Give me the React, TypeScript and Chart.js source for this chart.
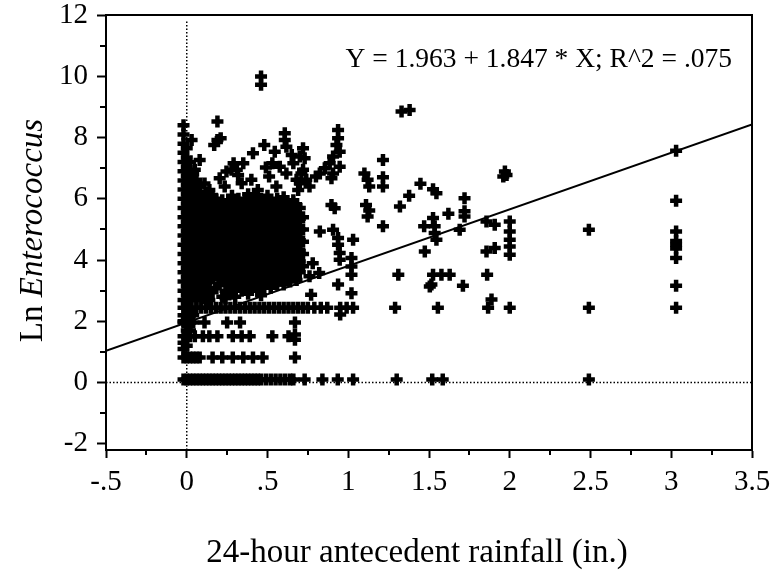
import React, { useEffect, useRef } from 'react';
import { Chart, registerables } from 'chart.js';

Chart.register(...registerables);

const SERIF = '"Liberation Serif", "Times New Roman", Times, serif';

// ---- axes ----
const xTickValues = [-0.5, 0, 0.5, 1, 1.5, 2, 2.5, 3, 3.5];
const xTickLabels = ['-.5', '0', '.5', '1', '1.5', '2', '2.5', '3', '3.5'];
const xMinorTickValues = [-0.25, 0.25, 0.75, 1.25, 1.75, 2.25, 2.75, 3.25];
const yTickValues = [-2, 0, 2, 4, 6, 8, 10, 12];
const yTickLabels = ['-2', '0', '2', '4', '6', '8', '10', '12'];
const yMinorTickValues = [-1, 1, 3, 5, 7, 9, 11];

const xAxisTitle = '24-hour antecedent rainfall (in.)';
const yAxisTitlePlain = 'Ln ';
const yAxisTitleItalic = 'Enterococcus';

// ---- regression ----
const fitIntercept = 1.963;
const fitSlope = 1.847;
const fitRainfall = [-0.5, 3.5];
const equationText = 'Y = 1.963 + 1.847 * X; R^2 = .075';

// ---- reference lines ----
const zeroRainfallLine = [-2.2, 11.8];
const zeroLnLine = [-0.5, 3.5];

// ---- data: horizontal bands (samples at common reported concentrations) ----
const bandLevels = [0.1, 0.82, 1.51, 1.96, 2.44];
const bandRainfall = [
  [-0.02, 0, 0.02, 0.04, 0.06, 0.08, 0.1, 0.12, 0.14, 0.16, 0.18, 0.2, 0.22, 0.24, 0.26, 0.28, 0.3, 0.32, 0.34, 0.36, 0.38, 0.4, 0.42, 0.44, 0.46, 0.49, 0.52, 0.55, 0.58, 0.61, 0.64, 0.66, 0.73, 0.84, 0.935, 1.03, 1.3, 1.52, 1.585, 2.49],
  [-0.02, 0, 0.02, 0.04, 0.06, 0.08, 0.16, 0.22, 0.285, 0.35, 0.41, 0.47, 0.67],
  [-0.02, 0, 0.02, 0.05, 0.1, 0.14, 0.19, 0.285, 0.34, 0.39, 0.53, 0.63],
  [-0.02, 0, 0.02, 0.04, 0.11, 0.25, 0.33, 0.67],
  [-0.02, 0, 0.03, 0.06, 0.09, 0.12, 0.15, 0.18, 0.21, 0.24, 0.27, 0.3, 0.33, 0.36, 0.39, 0.42, 0.45, 0.48, 0.51, 0.54, 0.57, 0.6, 0.63, 0.66, 0.69, 0.72, 0.75, 0.79, 0.83, 0.87, 0.95, 0.99, 1.03, 1.29, 1.555, 1.866, 2.0, 2.49, 3.03],
];

// ---- data: dense cluster of low-rainfall samples, by rainfall column ----
const clusterRainfall = [-0.02, 0, 0.02, 0.04, 0.06, 0.08, 0.1, 0.12, 0.14, 0.16, 0.18, 0.2, 0.22, 0.24, 0.26, 0.28, 0.3, 0.32, 0.34, 0.36, 0.38, 0.4, 0.42, 0.44, 0.46, 0.48, 0.5, 0.52, 0.54, 0.56, 0.58, 0.6, 0.62, 0.64, 0.66, 0.68, 0.7, 0.72];
const clusterLnEntero = [
  [1.1, 1.3, 2.0, 2.2, 2.7, 3.0, 3.3, 3.6, 3.9, 4.2, 4.5, 4.8, 5.1, 5.4, 5.7, 6.0, 6.3, 6.6, 6.9, 7.2, 7.5, 7.8, 8.1, 8.4],
  [1.2, 1.7, 2.1, 2.6, 2.85, 3.15, 3.45, 3.75, 4.05, 4.35, 4.65, 4.95, 5.25, 5.55, 5.85, 6.15, 6.45, 6.75, 7.05, 7.35, 7.65],
  [1.7, 2.2, 2.7, 3.0, 3.3, 3.6, 3.9, 4.2, 4.5, 4.8, 5.1, 5.4, 5.7, 6.0, 6.3, 6.6, 6.9, 7.2],
  [2.2, 2.9, 3.2, 3.5, 3.8, 4.1, 4.4, 4.7, 5.0, 5.3, 5.6, 5.9, 6.2, 6.5, 6.8],
  [2.7, 3.05, 3.35, 3.65, 3.95, 4.25, 4.55, 4.85, 5.15, 5.45, 5.75, 6.05, 6.35, 6.62],
  [2.9, 3.2, 3.5, 3.8, 4.1, 4.4, 4.7, 5.0, 5.3, 5.6, 5.9, 6.2, 6.4],
  [2.75, 3.1, 3.4, 3.7, 4.0, 4.3, 4.6, 4.9, 5.2, 5.5, 5.8, 6.1],
  [2.9, 3.25, 3.55, 3.85, 4.15, 4.45, 4.75, 5.05, 5.35, 5.65, 5.95],
  [2.7, 3.0, 3.3, 3.6, 3.9, 4.2, 4.5, 4.8, 5.1, 5.4, 5.7],
  [2.95, 3.4, 3.7, 4.0, 4.3, 4.6, 4.9, 5.2, 5.5, 5.8],
  [3.1, 3.5, 3.85, 4.15, 4.45, 4.75, 5.05, 5.35, 5.65, 6.0],
  [3.2, 3.55, 3.9, 4.25, 4.55, 4.85, 5.15, 5.45, 5.75],
  [2.8, 3.3, 3.65, 4.0, 4.35, 4.7, 5.0, 5.3, 5.6, 5.95],
  [2.75, 3.0, 3.45, 3.8, 4.1, 4.45, 4.8, 5.1, 5.4, 5.75],
  [3.2, 3.6, 3.9, 4.25, 4.6, 4.9, 5.25, 5.55, 5.9],
  [2.9, 3.35, 3.7, 4.05, 4.4, 4.75, 5.05, 5.4, 5.7, 6.1],
  [2.8, 3.1, 3.5, 3.85, 4.2, 4.5, 4.85, 5.2, 5.5, 5.85],
  [3.25, 3.6, 3.95, 4.3, 4.65, 5.0, 5.35, 5.65, 6.0],
  [3.0, 3.4, 3.75, 4.1, 4.45, 4.8, 5.1, 5.45, 5.8],
  [3.2, 3.55, 3.9, 4.25, 4.6, 4.95, 5.3, 5.6, 5.95],
  [2.9, 3.35, 3.7, 4.05, 4.4, 4.75, 5.05, 5.4, 5.75, 6.15],
  [3.1, 3.5, 3.85, 4.2, 4.55, 4.9, 5.2, 5.55, 5.9],
  [3.25, 3.6, 3.95, 4.3, 4.65, 5.0, 5.35, 5.7, 6.05],
  [3.0, 3.4, 3.75, 4.1, 4.45, 4.8, 5.15, 5.5, 5.85],
  [2.85, 3.2, 3.55, 3.9, 4.25, 4.6, 4.95, 5.3, 5.65, 6.0],
  [3.1, 3.45, 3.8, 4.15, 4.5, 4.85, 5.2, 5.55, 5.9],
  [3.3, 3.65, 4.0, 4.35, 4.7, 5.05, 5.4, 5.75, 6.1],
  [3.1, 3.5, 3.85, 4.2, 4.55, 4.9, 5.25, 5.6, 5.95],
  [3.3, 3.7, 4.05, 4.4, 4.75, 5.1, 5.45, 5.8],
  [3.2, 3.55, 3.9, 4.25, 4.6, 4.95, 5.3, 5.65, 6.0],
  [3.4, 3.75, 4.1, 4.45, 4.8, 5.15, 5.5, 5.85],
  [3.2, 3.6, 3.95, 4.3, 4.65, 5.0, 5.35, 5.7, 6.05],
  [3.45, 3.8, 4.15, 4.5, 4.85, 5.2, 5.55, 5.9],
  [3.3, 3.65, 4.0, 4.35, 4.7, 5.05, 5.4, 5.75],
  [3.5, 3.85, 4.2, 4.55, 4.9, 5.25, 5.6, 5.95],
  [3.35, 3.7, 4.05, 4.4, 4.75, 5.1, 5.45, 5.8],
  [3.6, 3.95, 4.3, 4.65, 5.0, 5.35, 5.7],
  [3.8, 4.2, 4.6, 5.0, 5.4],
];

// ---- data: individual samples outside the dense cluster ----
const outlierRainfall = [
  0.03, 0.05, 0.08, 0.14, 0.19, 0.19, 0.21, 0.17, 0.204, 0.235, 0.246, 0.277, 0.29, 0.31, 0.318, 0.34, 0.35, 0.4, 0.41, 0.44,
  0.46, 0.46, 0.48, 0.49, 0.51, 0.53, 0.545, 0.555, 0.576, 0.607, 0.607, 0.617, 0.617, 0.65, 0.66, 0.68, 0.7, 0.7, 0.69, 0.71,
  0.72, 0.72, 0.73, 0.74, 0.76, 0.8, 0.824, 0.855, 0.885, 0.906, 0.947, 0.927, 0.937, 0.937, 0.947, 0.906, 0.896, 0.896, 0.916, 0.824,
  0.906, 0.937, 1.03, 0.937, 0.947, 0.947, 1.02, 1.02, 1.02, 0.82, 0.76, 0.78, 0.937, 1.02, 0.77, 0.95, 0.67, 0.67, 1.1, 1.12,
  1.13, 1.11, 1.13, 1.12, 1.215, 1.215, 1.215, 1.215, 1.33, 1.38, 1.447, 1.377, 1.32, 1.525, 1.546, 1.72, 1.72, 1.72, 1.62, 1.525,
  1.535, 1.47, 1.546, 1.535, 1.69, 1.856, 1.907, 2.0, 2.0, 2.0, 2.0, 2.0, 1.856, 1.907, 1.97, 1.98, 1.96, 1.474, 1.31, 1.525,
  1.577, 1.628, 1.515, 1.505, 1.71, 1.86, 1.887, 2.49, 3.03, 3.03, 3.03, 3.03, 3.03, 3.03, 3.03, 3.03,
  0.11, 0.13, 0.16,
];
const outlierLnEntero = [
  7.92, 6.95, 7.27, 6.29, 8.52, 7.92, 7.98, 7.76, 6.67, 6.4, 6.89, 6.95, 7.16, 6.95, 6.78, 6.51, 7.16, 6.62, 7.49, 6.29,
  9.99, 9.72, 7.76, 7.02, 6.73, 7.16, 7.54, 6.4, 7.05, 8.14, 7.92, 7.7, 6.83, 7.43, 7.16, 6.62, 7.38, 6.51, 6.29, 6.83,
  7.65, 6.95, 7.32, 6.62, 6.4, 6.73, 6.83, 7.0, 7.16, 7.38, 7.54, 7.76, 7.98, 8.25, 7.05, 6.83, 6.67, 5.8, 5.69, 4.93,
  4.99, 4.72, 4.66, 4.5, 4.23, 4.01, 4.07, 3.79, 3.52, 3.58, 3.47, 3.9, 3.2, 2.92, 2.87, 2.22, 1.57, 1.4, 6.83, 6.62,
  6.4, 5.8, 5.62, 5.42, 7.27, 6.7, 6.4, 5.1, 8.85, 8.9, 6.49, 6.1, 5.75, 6.31, 6.18, 6.02, 5.59, 5.42, 5.51, 5.37,
  5.1, 5.1, 4.66, 4.88, 4.99, 5.26, 5.15, 5.26, 4.93, 4.66, 4.44, 4.17, 4.28, 4.39, 6.89, 6.78, 6.73, 4.28, 3.52, 3.52,
  3.52, 3.52, 3.2, 3.14, 3.16, 3.52, 2.71, 4.99, 7.57, 5.94, 4.93, 4.62, 4.5, 4.38, 4.07, 3.16,
  6.5, 6.2, 6.1,
];

type Pt = { x: number; y: number };

function buildSamples(): Pt[] {
  const pts: Pt[] = [];
  bandLevels.forEach((lvl, i) => bandRainfall[i].forEach((x) => pts.push({ x, y: lvl })));
  clusterRainfall.forEach((x, i) => clusterLnEntero[i].forEach((y) => pts.push({ x, y })));
  outlierRainfall.forEach((x, i) => pts.push({ x, y: outlierLnEntero[i] }));
  return pts;
}

const decorPlugin = {
  id: 'decor',
  afterDraw(chart: any) {
    const { ctx, chartArea } = chart;
    const xs = chart.scales.x;
    const ys = chart.scales.y;
    ctx.save();
    ctx.strokeStyle = '#000';
    ctx.lineWidth = 2;
    ctx.lineCap = 'butt';
    // minor ticks
    xMinorTickValues.forEach((v) => {
      const px = Math.round(xs.getPixelForValue(v));
      ctx.beginPath();
      ctx.moveTo(px, chartArea.bottom);
      ctx.lineTo(px, chartArea.bottom + 5);
      ctx.stroke();
    });
    yMinorTickValues.forEach((v) => {
      const py = Math.round(ys.getPixelForValue(v));
      ctx.beginPath();
      ctx.moveTo(chartArea.left, py);
      ctx.lineTo(chartArea.left - 6, py);
      ctx.stroke();
    });

    ctx.fillStyle = '#000';
    // equation
    ctx.font = `27.5px ${SERIF}`;
    ctx.textAlign = 'right';
    ctx.textBaseline = 'alphabetic';
    ctx.fillText(equationText, chartArea.right - 20, chartArea.top + 52);

    // x axis title
    ctx.font = `33px ${SERIF}`;
    ctx.textAlign = 'center';
    ctx.fillText(xAxisTitle, (chartArea.left + chartArea.right) / 2 - 12, 562);

    // y axis title (mixed roman / italic)
    ctx.translate(42, (chartArea.top + chartArea.bottom) / 2 - 2);
    ctx.rotate(-Math.PI / 2);
    ctx.textAlign = 'left';
    ctx.font = `33px ${SERIF}`;
    const w1 = ctx.measureText(yAxisTitlePlain).width;
    ctx.font = `italic 33px ${SERIF}`;
    const w2 = ctx.measureText(yAxisTitleItalic).width;
    const start = -(w1 + w2) / 2;
    ctx.font = `33px ${SERIF}`;
    ctx.fillText(yAxisTitlePlain, start, 0);
    ctx.font = `italic 33px ${SERIF}`;
    ctx.fillText(yAxisTitleItalic, start + w1, 0);
    ctx.restore();
  },
};

export default function App() {
  const ref = useRef<HTMLCanvasElement | null>(null);

  useEffect(() => {
    if (!ref.current) return;
    const samples = buildSamples();
    const fitLine = fitRainfall.map((x) => ({ x, y: fitIntercept + fitSlope * x }));
    const vLine = zeroRainfallLine.map((y) => ({ x: 0, y }));
    const hLine = zeroLnLine.map((x) => ({ x, y: 0 }));

    const chart = new Chart(ref.current, {
      type: 'scatter',
      data: {
        datasets: [
          {
            data: fitLine,
            showLine: true,
            borderColor: '#000',
            borderWidth: 2,
            pointRadius: 0,
          },
          {
            data: samples,
            pointStyle: 'cross',
            pointRadius: 6,
            pointBorderWidth: 4.5,
            borderWidth: 4.5,
            borderColor: '#000',
            backgroundColor: '#000',
            showLine: false,
          },
          {
            data: vLine,
            showLine: true,
            borderColor: '#000',
            borderWidth: 1.5,
            borderDash: [1.5, 2],
            pointRadius: 0,
          },
          {
            data: hLine,
            showLine: true,
            borderColor: '#000',
            borderWidth: 1.5,
            borderDash: [1.5, 2],
            pointRadius: 0,
          },
        ] as any,
      },
      options: {
        responsive: false,
        animation: false,
        events: [],
        layout: { padding: { top: 15, right: 22, left: 0, bottom: 0 } },
        plugins: {
          legend: { display: false },
          tooltip: { enabled: false },
          title: { display: false },
        },
        scales: {
          x: {
            type: 'linear',
            position: 'bottom',
            min: -0.5,
            max: 3.5,
            afterFit: (s: any) => {
              s.height = 127;
              s.paddingLeft = 0;
              s.paddingRight = 0;
            },
            afterBuildTicks: (s: any) => {
              s.ticks = xTickValues.map((v) => ({ value: v }));
            },
            ticks: {
              callback: (_v: any, i: number) => xTickLabels[i],
              font: { family: SERIF, size: 29, lineHeight: 1 },
              color: '#000',
              padding: 10,
              maxRotation: 0,
              autoSkip: false,
            },
            grid: { drawOnChartArea: false, drawTicks: true, tickLength: 8, tickWidth: 2, tickColor: '#000' },
            border: { display: true, color: '#000', width: 2 },
          },
          y: {
            type: 'linear',
            position: 'left',
            min: -2.2,
            max: 12,
            afterFit: (s: any) => {
              s.width = 106;
              s.paddingTop = 0;
              s.paddingBottom = 0;
            },
            afterBuildTicks: (s: any) => {
              s.ticks = yTickValues.map((v) => ({ value: v }));
            },
            ticks: {
              callback: (_v: any, i: number) => yTickLabels[i],
              font: { family: SERIF, size: 29, lineHeight: 1 },
              color: '#000',
              padding: 9,
              autoSkip: false,
            },
            grid: { drawOnChartArea: false, drawTicks: true, tickLength: 9, tickWidth: 2, tickColor: '#000' },
            border: { display: true, color: '#000', width: 2 },
          },
          xTop: {
            type: 'linear',
            position: 'top',
            min: -0.5,
            max: 3.5,
            afterFit: (s: any) => {
              s.height = 0;
            },
            ticks: { display: false },
            grid: { drawOnChartArea: false, drawTicks: false },
            border: { display: true, color: '#000', width: 2 },
          },
          yRight: {
            type: 'linear',
            position: 'right',
            min: -2.2,
            max: 12,
            afterFit: (s: any) => {
              s.width = 0;
            },
            ticks: { display: false },
            grid: { drawOnChartArea: false, drawTicks: false },
            border: { display: true, color: '#000', width: 2 },
          },
        } as any,
      },
      plugins: [decorPlugin],
    });
    return () => chart.destroy();
  }, []);

  return (
    <canvas
      ref={ref}
      width={774}
      height={577}
      style={{ position: 'absolute', left: 0, top: 0, width: 774, height: 577 }}
    />
  );
}
